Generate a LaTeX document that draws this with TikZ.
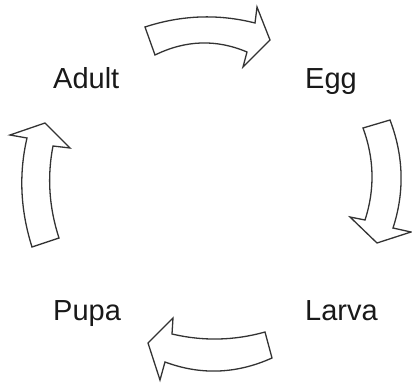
\documentclass[tikz,border=0pt]{standalone}
\usepackage{fontspec}
\setmainfont{Liberation Sans}
\begin{document}
\begin{tikzpicture}[x=1pt,y=-1pt,
  blockarrow/.style={draw=black!80, fill=white, line width=1.3pt, line join=miter},
  stage/.style={anchor=base west, inner sep=0pt, text=black!90, font=\fontsize{29}{34}\selectfont}]
\useasboundingbox (0,0) rectangle (412,383);
% top arrow (Adult -> Egg)
\draw[blockarrow] (145,27) .. controls (181.7,15) and (218.3,13.7) .. (255,23)
  -- (257,7) -- (270,40) -- (243,67) -- (247,52)
  .. controls (216.3,39) and (185.7,40) .. (155,55) -- cycle;
% right arrow (Egg -> Larva)
\draw[blockarrow] (363,128) -- (390,120)
  .. controls (403.7,156) and (404.7,192) .. (393,228)
  -- (411,232) -- (377,243) -- (350,217) -- (365,220)
  .. controls (375,189.3) and (374.3,158.7) .. (363,128) -- cycle;
% bottom arrow (Larva -> Pupa)
\draw[blockarrow] (265,332) .. controls (234,340.7) and (203,341.3) .. (172,334)
  -- (173,318) -- (148,343) -- (160,380) -- (165,362)
  .. controls (200.7,375.3) and (236.3,374) .. (272,358) -- cycle;
% left arrow (Pupa -> Adult)
\draw[blockarrow] (32,247) -- (59,238)
  .. controls (49,207.3) and (47,176.7) .. (53,146)
  -- (70,148) -- (45,123) -- (10,135) -- (27,138)
  .. controls (18.7,173.7) and (20.3,210) .. (32,247) -- cycle;
\node[stage] (adult) at (53,88) {Adult};
\node[stage] (egg) at (305,88) {Egg};
\node[stage] (pupa) at (53,320) {Pupa};
\node[stage] (larva) at (305,320) {Larva};
\end{tikzpicture}
\end{document}
